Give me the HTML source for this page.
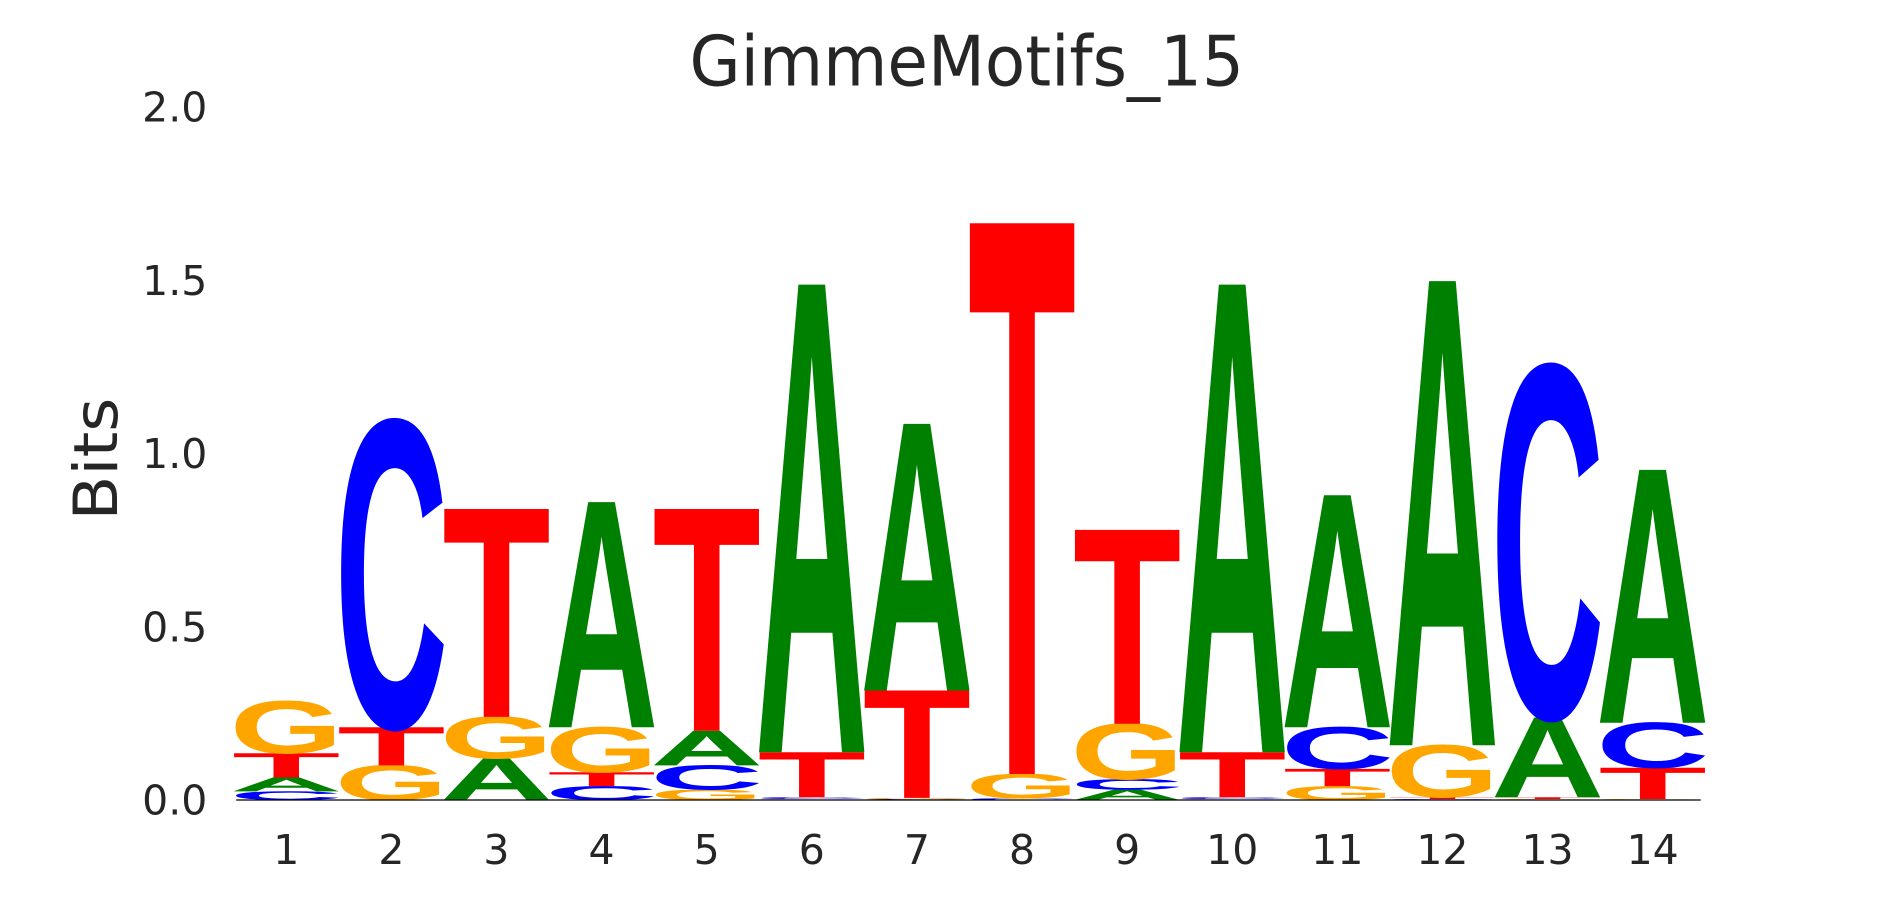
<!DOCTYPE html>
<html><head><meta charset="utf-8"><style>
html,body{margin:0;padding:0;background:#fff;}
svg{display:block;}
</style></head><body>
<svg id="chart" width="1890" height="900" viewBox="0 0 1568 747" preserveAspectRatio="none" xmlns="http://www.w3.org/2000/svg" font-family="'DejaVu Sans', 'Liberation Sans', sans-serif">
<text x="572" y="71" font-size="58" fill="#262626" textLength="460" lengthAdjust="spacingAndGlyphs">GimmeMotifs_15</text>
<text transform="translate(97,432) rotate(-90)" font-size="50" fill="#262626" textLength="102" lengthAdjust="spacingAndGlyphs">Bits</text>
<g id="yticks"></g>
<g id="xticks"></g>
<g id="logo" font-family="'Liberation Sans', sans-serif"></g>
<line x1="196" x2="1411" y1="664" y2="664" stroke="#000" stroke-width="1"/>
</svg>
<script>
const positions = [1,2,3,4,5,6,7,8,9,10,11,12,13,14];
const heightsA = [0.04,0,0.12,0.65,0.10,1.35,0.77,0,0.03,1.35,0.67,1.34,0.23,0.73];
const heightsC = [0.025,0.88,0,0.04,0.07,0.005,0.003,0.005,0.03,0.005,0.12,0.003,1.01,0.13];
const heightsG = [0.15,0.10,0.12,0.13,0.03,0.003,0.003,0.07,0.16,0.003,0.04,0.15,0.003,0.003];
const heightsT = [0.07,0.11,0.60,0.04,0.64,0.13,0.31,1.59,0.56,0.13,0.05,0.005,0.005,0.09];
const yTicks = [0,0.5,1,1.5,2];
const yTickLabels = ["0.0","0.5","1.0","1.5","2.0"];

const NS = "http://www.w3.org/2000/svg";
const y0 = 664, pxPerBit = 287.5;
const xFirst = 237.5, xStep = 87.2, colW = 84;
function yScale(v){ return y0 - v*pxPerBit; }
function xScale(p){ return xFirst + (p-1)*xStep; }
const colors = {A:"#008000", C:"#0000ff", G:"#ffa500", T:"#ff0000"};

const yg = document.getElementById('yticks');
yTicks.forEach((v,i)=>{
  const t = document.createElementNS(NS,'text');
  
  
  t.setAttribute('x', 172); t.setAttribute('y', yScale(v)+12);
  t.setAttribute('font-size', 34); t.setAttribute('fill', '#262626');
  t.setAttribute('text-anchor', 'end');
  t.textContent = yTickLabels[i];
  yg.appendChild(t);
});
const xg = document.getElementById('xticks');
positions.forEach(p=>{
  const t = document.createElementNS(NS,'text');
  
  
  t.setAttribute('x', xScale(p)); t.setAttribute('y', 717);
  t.setAttribute('font-size', 34); t.setAttribute('fill', '#262626');
  t.setAttribute('text-anchor', 'middle');
  t.textContent = String(p);
  xg.appendChild(t);
});

const lg = document.getElementById('logo');
const capH = 68.8;
positions.forEach((p,i)=>{
  const stack = [['A',heightsA[i]],['C',heightsC[i]],['G',heightsG[i]],['T',heightsT[i]]]
    .sort((a,b)=>a[1]-b[1]);
  let cum = 0;
  stack.forEach(([L,h])=>{
    if(h<=0){return;}
    const yb = yScale(cum), yt = yScale(cum+h);
    const sy = (yb-yt)/capH;
    const t = document.createElementNS(NS,'text');
    
    
    const tl = L==='T'?colW*1.07:colW*1.12;
    t.setAttribute('x', -tl/2);
    t.setAttribute('y', 0);
    t.setAttribute('font-size', 100);
    t.setAttribute('font-weight', 'bold');
    t.setAttribute('textLength', tl);
    t.setAttribute('lengthAdjust', 'spacingAndGlyphs');
    t.setAttribute('fill', colors[L]);
    t.setAttribute('transform', 'translate('+xScale(p)+','+yb+') scale(1,'+sy+')');
    t.textContent = L;
    lg.appendChild(t);
    cum += h;
  });
});
</script>
</body></html>
